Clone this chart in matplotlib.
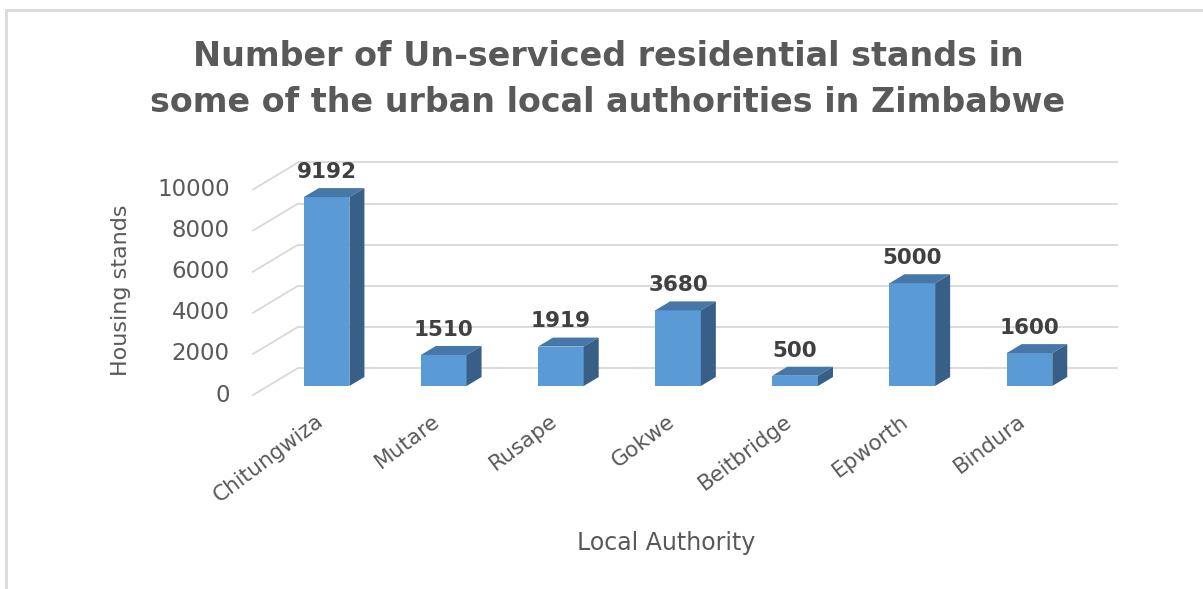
import matplotlib.pyplot as plt
from matplotlib.patches import Polygon, Rectangle

# data
authorities = ['Chitungwiza', 'Mutare', 'Rusape', 'Gokwe', 'Beitbridge', 'Epworth', 'Bindura']
stands = [9192, 1510, 1919, 3680, 500, 5000, 1600]
yticks = [0, 2000, 4000, 6000, 8000, 10000]

title = 'Number of Un-serviced residential stands in\nsome of the urban local authorities in Zimbabwe'
xlabel = 'Local Authority'
ylabel = 'Housing stands'

W, H = 1203, 589
fig = plt.figure(figsize=(W / 100, H / 100), dpi=100)

# axes = plane of the bar front faces
ax = fig.add_axes([268 / W, 1 - 386 / H, 820 / W, 205.5 / H])
ax.set_xlim(-0.5, 6.5)
ax.set_ylim(0, 10000)
ax.axis('off')

# one "depth step" of the fake 3d (15 px right, 9 px up) in data units
ddx = 15 * 7 / 820
ddy = 9 * 10000 / 205.5
bw = 0.39

grid_c = '#d9d9d9'
front_c = '#5b9bd5'
top_c = '#4677a8'
side_c = '#385f87'
txt_c = '#595959'

# back wall gridlines and side wall diagonals
for t in yticks:
    ax.plot([-0.5 + 2 * ddx, 6.5 + 2 * ddx], [t + 2 * ddy] * 2, color=grid_c, lw=1.3,
            zorder=1, clip_on=False, solid_capstyle='butt')
    ax.plot([-0.5 - ddx, -0.5 + 2 * ddx], [t - ddy, t + 2 * ddy], color=grid_c, lw=1.3,
            zorder=1, clip_on=False)
    ax.text(-0.5 - ddx - 0.2, t - ddy, str(t), ha='right', va='center',
            fontsize=16.5, color=txt_c)

# bars: front face + top + right side
x = range(len(stands))
ax.bar(x, stands, width=bw, color=front_c, zorder=3, clip_on=False)
for i, v in zip(x, stands):
    l, r = i - bw / 2, i + bw / 2
    ax.add_patch(Polygon([(l, v), (r, v), (r + ddx, v + ddy), (l + ddx, v + ddy)],
                         closed=True, facecolor=top_c, edgecolor='none', zorder=3, clip_on=False))
    ax.add_patch(Polygon([(r, 0), (r + ddx, ddy), (r + ddx, v + ddy), (r, v)],
                         closed=True, facecolor=side_c, edgecolor='none', zorder=3, clip_on=False))
    ax.text(i, v + ddy + 300, str(v), ha='center', va='bottom', fontsize=15.5,
            fontweight='bold', color='#404040', zorder=4)
    ax.text(i - 0.05, -1600, authorities[i], rotation=37, rotation_mode='anchor',
            ha='right', va='center', fontsize=15.5, color=txt_c)

fig.text(608 / W, 1 - 80 / H, title, ha='center', va='center', fontsize=24,
         fontweight='bold', color=txt_c, linespacing=1.5)
fig.text(666 / W, 1 - 543 / H, xlabel, ha='center', va='center', fontsize=17, color=txt_c)
fig.text(121 / W, 1 - 290 / H, ylabel, ha='center', va='center', rotation=90,
         fontsize=16, color=txt_c)

# chart frame (only top and left edges visible)
fig.patches.append(Rectangle((6 / W, -0.1), 1.2, 1 - 10 / H + 0.1, transform=fig.transFigure,
                             facecolor='none', edgecolor='#d9d9d9', lw=2))

fig.savefig('out.png', dpi=100)
